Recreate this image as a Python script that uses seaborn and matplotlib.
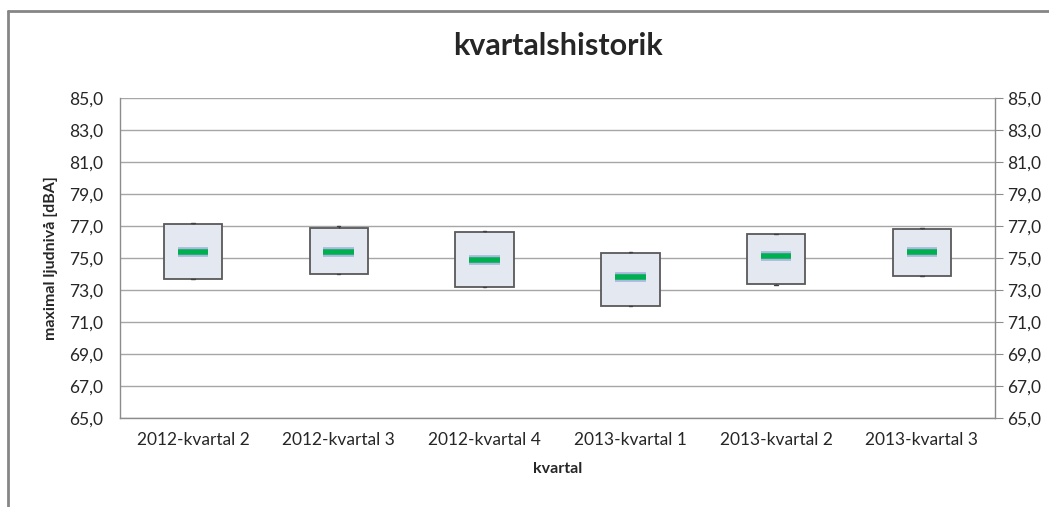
import numpy as np
import pandas as pd
import matplotlib.pyplot as plt
import matplotlib.patheffects as pe
from matplotlib.lines import Line2D
from matplotlib.ticker import FuncFormatter
import seaborn as sns

# Data (dBA)
quarters = ["2012-kvartal 2", "2012-kvartal 3", "2012-kvartal 4",
            "2013-kvartal 1", "2013-kvartal 2", "2013-kvartal 3"]
low = [73.7, 74.0, 73.2, 72.0, 73.3, 73.9]
q1 = [73.7, 74.0, 73.2, 72.0, 73.4, 73.9]
median = [75.4, 75.4, 74.9, 73.8, 75.1, 75.4]
q3 = [77.1, 76.9, 76.6, 75.3, 76.5, 76.8]
high = [77.2, 77.0, 76.7, 75.4, 76.5, 76.9]
yticks = np.arange(65, 86, 2)

# five points per quarter -> quartiles land exactly on q1/median/q3
rows = []
for i, q in enumerate(quarters):
    for v in (low[i], q1[i], median[i], q3[i], high[i]):
        rows.append({"kvartal": q, "niva": v})
df = pd.DataFrame(rows)

sns.set_style("white")
plt.rcParams["font.family"] = ["Lato", "DejaVu Sans"]

fig = plt.figure(figsize=(10.49, 5.07), dpi=100)
ax = fig.add_axes([0.1144, 0.1755, 0.834, 0.631])

sns.boxplot(data=df, x="kvartal", y="niva", order=quarters, ax=ax,
            width=0.4, whis=10, fliersize=0,
            boxprops=dict(facecolor="#E4E8F1", edgecolor="#595959", linewidth=1.3),
            whiskerprops=dict(color="#404040", linewidth=1),
            capprops=dict(color="#404040", linewidth=1),
            medianprops=dict(color="#00B050", linewidth=4, solid_capstyle="butt",
                             path_effects=[pe.Stroke(linewidth=7, foreground="#A9B8DE"),
                                           pe.Normal()]))

# shrink median bars to the middle of the boxes, caps to tiny ticks
for line in ax.lines:
    xs = line.get_xdata()
    if len(xs) != 2 or xs[0] == xs[1]:
        continue
    c = (xs[0] + xs[1]) / 2
    if line.get_color() == "#00B050":
        line.set_xdata([c - 0.105, c + 0.105])
    elif line.get_color() == "#404040":
        line.set_xdata([c - 0.012, c + 0.012])

ax.set_ylim(65, 85)
ax.set_xlim(-0.5, len(quarters) - 0.5)
ax.set_yticks(yticks)
fmt = FuncFormatter(lambda v, p: f"{v:.1f}".replace(".", ","))
ax.yaxis.set_major_formatter(fmt)
ax.grid(axis="y", color="#A6A6A6", linewidth=1)
ax.set_axisbelow(True)

for s in ["left", "right", "bottom"]:
    ax.spines[s].set_color("#8C8C8C")
    ax.spines[s].set_linewidth(1)
ax.spines["top"].set_visible(False)

ax.tick_params(axis="x", length=0, labelsize=12.5, colors="#262626", pad=10)
ax.tick_params(axis="y", length=0, labelsize=12.5, colors="#262626", pad=12)

ax2 = ax.twinx()
ax2.set_ylim(65, 85)
ax2.set_yticks(yticks)
ax2.yaxis.set_major_formatter(fmt)
ax2.tick_params(axis="y", length=6, color="#8C8C8C", labelsize=12.5, colors="#262626", pad=3)
for s in ax2.spines.values():
    s.set_visible(False)

ax.set_xlabel("kvartal", fontsize=11.5, fontweight="bold", labelpad=10)
ax.set_ylabel("maximal ljudnivå [dBA]", fontsize=11.5, fontweight="bold", labelpad=8)
fig.text(0.532, 0.91, "kvartalshistorik", ha="center", va="center",
         fontsize=22, fontweight="bold")

# chart area border (top and left edges visible in the crop)
fig.add_artist(Line2D([8 / 1049, 1], [1 - 11 / 507, 1 - 11 / 507],
                      transform=fig.transFigure, color="#868686", linewidth=2))
fig.add_artist(Line2D([8 / 1049, 8 / 1049], [0, 1 - 11 / 507],
                      transform=fig.transFigure, color="#868686", linewidth=2))

fig.savefig("out.png", dpi=100)
